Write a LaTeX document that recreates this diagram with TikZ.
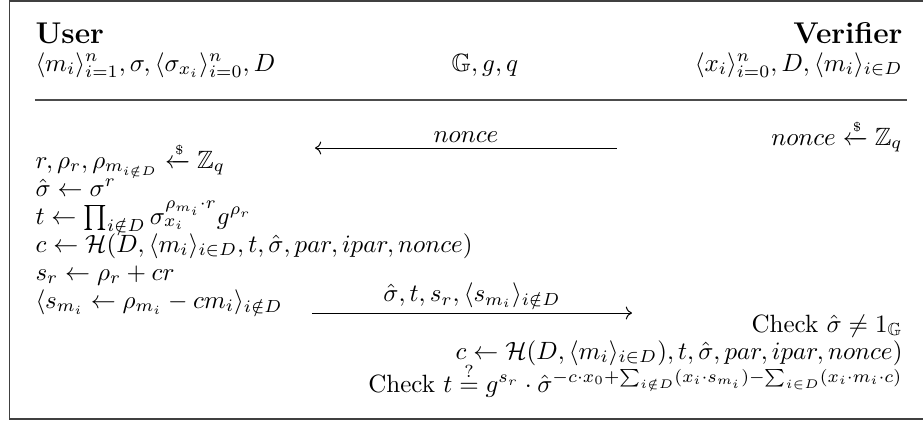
\documentclass[tikz,border=0pt]{standalone}
\usepackage{amsmath,amssymb}
\usetikzlibrary{arrows.meta}
\newcommand{\smp}{\xleftarrow{\raisebox{-0.1ex}[0ex][0ex]{\tiny\$}}}
\begin{document}
\begin{tikzpicture}[x=0.4pt,y=-0.4pt,
  lt/.style={anchor=base west, inner sep=0pt},
  rt/.style={anchor=base east, inner sep=0pt},
  ct/.style={anchor=base, inner sep=0pt},
  head/.style={font=\large\bfseries},
  msg/.style={-{Computer Modern Rightarrow}, line width=0.4pt},
  lab/.style={midway, anchor=south, inner sep=2pt},
  frame/.style={draw=black!75, line width=0.6pt},
  rulel/.style={draw=black!70, line width=0.5pt}]
\useasboundingbox (0,0) rectangle (923,422);
\draw[frame] (940,0.8) -- (9.5,0.8) -- (9.5,419) -- (940,419);
\node[lt, head] (user) at (35,43) {User};
\node[lt] (uin) at (35,71) {$\langle m_i\rangle_{i=1}^n, \sigma, \langle\sigma_{x_i}\rangle_{i=0}^n, D$};
\node[ct] (pub) at (485,71) {$\mathbb{G}, g, q$};
\node[rt, head] (ver) at (903,43) {Verifier};
\node[rt] (vin) at (903,71) {$\langle x_i\rangle_{i=0}^n, D, \langle m_i\rangle_{i\in D}$};
\coordinate (hl) at (35,100);
\coordinate (hr) at (907,100);
\draw[rulel] (hl) -- (hr);
\node[rt] (nv) at (903,145) {$nonce \smp \mathbb{Z}_q$};
\coordinate (a1s) at (617,148);
\coordinate (a1e) at (315,148);
\draw[msg] (a1s) -- node[lab] (l1) {$nonce$} (a1e);
\node[lt] (u1) at (35,168) {$r, \rho_r, \rho_{m_{i\notin D}} \smp \mathbb{Z}_q$};
\node[lt] (u2) at (35,196) {$\hat\sigma \leftarrow \sigma^r$};
\node[lt] (u3) at (35,224) {$t \leftarrow \prod_{i\notin D}\sigma_{x_i}^{\rho_{m_i}\cdot r} g^{\rho_r}$};
\node[lt] (u4) at (35,252) {$c \leftarrow \mathcal{H}(D, \langle m_i\rangle_{i\in D}, t, \hat\sigma, par, ipar, nonce)$};
\node[lt] (u5) at (35,280) {$s_r \leftarrow \rho_r + cr$};
\node[lt] (u6) at (35,308) {$\langle s_{m_i} \leftarrow \rho_{m_i} - cm_i\rangle_{i\notin D}$};
\coordinate (a2s) at (312,313);
\coordinate (a2e) at (632,313);
\draw[msg] (a2s) -- node[lab] (l2) {$\hat\sigma, t, s_r, \langle s_{m_i}\rangle_{i\notin D}$} (a2e);
\node[rt] (v1) at (903,332) {Check $\hat\sigma \neq 1_{\mathbb{G}}$};
\node[rt] (v2) at (903,359) {$c \leftarrow \mathcal{H}(D, \langle m_i\rangle_{i\in D}), t, \hat\sigma, par, ipar, nonce)$};
\node[rt] (v3) at (903,392) {Check $t \stackrel{?}{=} g^{s_r}\cdot\hat\sigma^{-c\cdot x_0+\sum_{i\notin D}(x_i\cdot s_{m_i})-\sum_{i\in D}(x_i\cdot m_i\cdot c)}$};
\end{tikzpicture}
\end{document}
